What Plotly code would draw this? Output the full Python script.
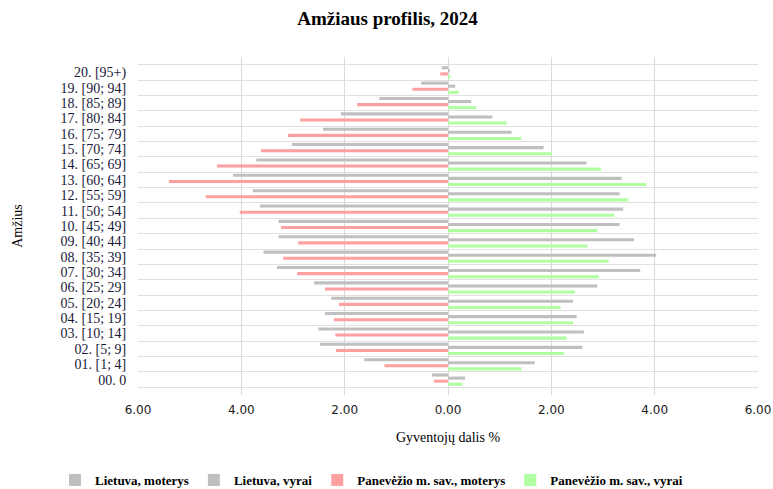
import plotly.graph_objects as go

categories = ["00. 0", "01. [1; 4]", "02. [5; 9]", "03. [10; 14]", "04. [15; 19]",
              "05. [20; 24]", "06. [25; 29]", "07. [30; 34]", "08. [35; 39]",
              "09. [40; 44]", "10. [45; 49]", "11. [50; 54]", "12. [55; 59]",
              "13. [60; 64]", "14. [65; 69]", "15. [70; 74]", "16. [75; 79]",
              "17. [80; 84]", "18. [85; 89]", "19. [90; 94]", "20. [95+)"]

lt_moterys = [0.31, 1.62, 2.48, 2.51, 2.38, 2.26, 2.59, 3.31, 3.57, 3.28, 3.28,
              3.64, 3.78, 4.16, 3.71, 3.02, 2.42, 2.07, 1.33, 0.52, 0.12]
lt_vyrai = [0.33, 1.68, 2.60, 2.63, 2.49, 2.42, 2.89, 3.72, 4.03, 3.60, 3.32,
            3.39, 3.32, 3.36, 2.68, 1.85, 1.23, 0.86, 0.45, 0.14, 0.02]
pan_moterys = [0.27, 1.23, 2.17, 2.18, 2.21, 2.11, 2.38, 2.92, 3.19, 2.90, 3.23,
               4.03, 4.69, 5.40, 4.47, 3.62, 3.10, 2.86, 1.76, 0.69, 0.15]
pan_vyrai = [0.28, 1.42, 2.25, 2.30, 2.42, 2.18, 2.46, 2.92, 3.11, 2.70, 2.89,
             3.22, 3.49, 3.84, 2.96, 2.01, 1.42, 1.14, 0.55, 0.21, 0.05]

x_tickvals = [-6, -4, -2, 0, 2, 4, 6]
x_ticktext = ["6.00", "4.00", "2.00", "0.00", "2.00", "4.00", "6.00"]

series = [
    ("Lietuva, moterys", [-v for v in lt_moterys], "#BFBFBF", 0.2),
    ("Lietuva, vyrai", lt_vyrai, "#BFBFBF", 0.0),
    ("Panevėžio m. sav., moterys", [-v for v in pan_moterys], "#FFA0A0", -0.2),
    ("Panevėžio m. sav., vyrai", pan_vyrai, "#B0FFA0", -0.4),
]

ypos = list(range(len(categories)))
fig = go.Figure()
for name, vals, color, off in series:
    fig.add_trace(go.Bar(
        x=vals, y=ypos, orientation="h", name=name,
        marker=dict(color=color, line=dict(width=0)),
        width=0.2, offset=off,
        customdata=[abs(v) for v in vals],
        hovertemplate="%{customdata:.2f}<extra>" + name + "</extra>",
    ))

W, H = 773, 489
ML, MR, MT, MB = 138, 15, 57, 94
PW, PH = W - ML - MR, H - MT - MB
serif = "Liberation Serif, Times New Roman, serif"
fig.update_layout(
    width=W, height=H,
    barmode="overlay",
    plot_bgcolor="white", paper_bgcolor="white",
    margin=dict(l=ML, r=MR, t=MT, b=MB, autoexpand=False),
    title=dict(text="<b>Amžiaus profilis, 2024</b>", x=387.5 / W, xref="container",
               xanchor="center", y=1 - 18 / H, yref="container", yanchor="middle",
               font=dict(family=serif, size=19, color="#000000")),
    showlegend=True,
    legend=dict(orientation="h", xref="paper", x=(55 - ML) / PW, xanchor="left",
                yref="paper", y=-(480 - (H - MB)) / PH, yanchor="middle",
                font=dict(family=serif, size=13, color="#000000", weight=700),
                itemwidth=30, traceorder="normal"),
    xaxis=dict(range=[-6, 6], tickvals=x_tickvals, ticktext=x_ticktext,
               automargin=False,
               showgrid=True, gridcolor="#D9D9D9", gridwidth=1,
               zeroline=True, zerolinecolor="#D9D9D9", zerolinewidth=1,
               showline=False, ticks="outside", ticklen=4,
               tickcolor="rgba(0,0,0,0)",
               tickfont=dict(family="DejaVu Sans, Verdana, sans-serif", size=12,
                             color="#1a1a1a"),
               title=dict(text="Gyventojų dalis %", standoff=15,
                          font=dict(family=serif, size=14, color="#000000"))),
    yaxis=dict(range=[-1, 21], tickvals=ypos, ticktext=categories,
               automargin=False,
               showgrid=False, zeroline=False, showline=False,
               ticks="outside", ticklen=8, tickcolor="rgba(0,0,0,0)",
               tickfont=dict(family=serif, size=14, color="#1a1a3a"),
               minor=dict(tickvals=[k - 0.5 for k in range(len(categories) + 1)],
                          showgrid=True, gridcolor="#E0E0E0", gridwidth=1,
                          ticks=""),
               title=dict(text="Amžius", standoff=34,
                          font=dict(family=serif, size=14, color="#000000"))),
)

fig.write_html(
    "out.html",
    config={"displayModeBar": False},
    post_script="document.body.style.margin='0';document.body.style.overflow='hidden';",
)
